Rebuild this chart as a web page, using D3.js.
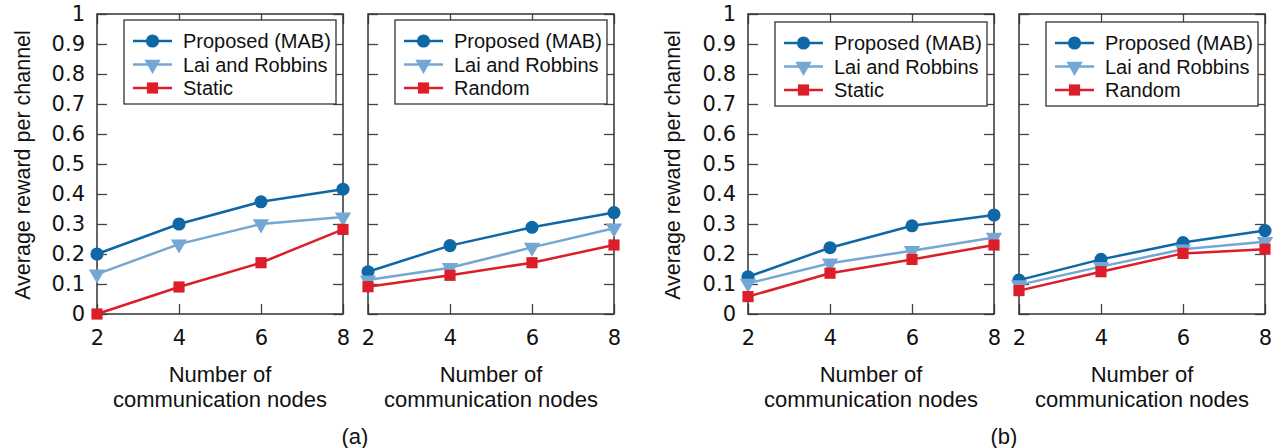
<!DOCTYPE html>
<html>
<head>
<meta charset="utf-8">
<script src="https://cdnjs.cloudflare.com/ajax/libs/d3/7.8.5/d3.min.js"></script>
<style>
  body { margin: 0; background: #fff; }
</style>
</head>
<body>
<div id="chart"></div>
<script>
// data
var nodes = [2, 4, 6, 8];
var yTickValues = [0, 0.1, 0.2, 0.3, 0.4, 0.5, 0.6, 0.7, 0.8, 0.9, 1];
var yTickLabels = ["0", "0.1", "0.2", "0.3", "0.4", "0.5", "0.6", "0.7", "0.8", "0.9", "1"];

var seriesNamesLeft = ["Proposed (MAB)", "Lai and Robbins", "Static"];
var seriesNamesRight = ["Proposed (MAB)", "Lai and Robbins", "Random"];

var aMab = [0.200, 0.300, 0.374, 0.416];
var aLai = [0.133, 0.233, 0.300, 0.323];
var aStatic = [0.000, 0.090, 0.171, 0.282];

var aMabR = [0.141, 0.228, 0.289, 0.338];
var aLaiR = [0.113, 0.154, 0.222, 0.286];
var aRandom = [0.091, 0.129, 0.171, 0.230];

var bMab = [0.124, 0.221, 0.294, 0.330];
var bLai = [0.102, 0.169, 0.211, 0.255];
var bStatic = [0.058, 0.136, 0.182, 0.230];

var bMabR = [0.113, 0.182, 0.238, 0.278];
var bLaiR = [0.097, 0.158, 0.216, 0.241];
var bRandom = [0.078, 0.141, 0.202, 0.216];

var xTitle = ["Number of", "communication nodes"];
var yTitle = "Average reward per channel";
var captions = ["(a)", "(b)"];

var colors = ["#0f67a6", "#74a7d3", "#dc1e2b"];
var symbols = [d3.symbolCircle, d3.symbolTriangle, d3.symbolSquare];
var font = "'Liberation Sans', Arial, Helvetica, sans-serif";
var tickFont = "'DejaVu Sans', 'Liberation Sans', sans-serif";

var svg = d3.select("#chart")
    .append("svg")
    .attr("width", 1273)
    .attr("height", 448)
    .style("font-family", font);

function marker(sel, i) {
    sel.attr("d", d3.symbol().type(symbols[i]).size(i == 0 ? 135 : (i == 1 ? 115 : 125)))
       .attr("fill", colors[i]);
}

function drawPanel(left, series, names, showLabels, legendTop) {
    var width = 246, height = 300, top = 14;

    var x = d3.scaleLinear().domain([2, 8]).range([left, left + width]);
    var y = d3.scaleLinear().domain([0, 1]).range([top + height, top]);

    var g = svg.append("g");

    var axes = [
        [d3.axisLeft(y).tickValues(yTickValues).tickSize(-10).tickPadding(12)
            .tickFormat(function(d, i) { return showLabels ? yTickLabels[i] : ""; }), "translate(" + left + ",0)"],
        [d3.axisRight(y).tickValues(yTickValues).tickSize(-10).tickFormat(""), "translate(" + (left + width) + ",0)"],
        [d3.axisBottom(x).tickValues(nodes).tickSize(-10).tickPadding(16).tickFormat(d3.format("d")), "translate(0," + (top + height) + ")"],
        [d3.axisTop(x).tickValues(nodes).tickSize(-10).tickFormat(""), "translate(0," + top + ")"]
    ];
    axes.forEach(function(a) {
        var ax = g.append("g").attr("transform", a[1]).call(a[0]);
        ax.select(".domain").remove();
        ax.selectAll("line").attr("stroke", "#444").attr("stroke-width", 1.3);
        ax.selectAll("text").attr("font-size", 21).attr("font-family", tickFont).attr("fill", "#111");
    });

    g.append("rect")
        .attr("x", left)
        .attr("y", top)
        .attr("width", width)
        .attr("height", height)
        .attr("fill", "none")
        .attr("stroke", "#333")
        .attr("stroke-width", 1.5);

    // x title
    g.append("text")
        .attr("x", left + width / 2).attr("y", 382)
        .attr("text-anchor", "middle").attr("font-size", 22).attr("fill", "#111")
        .text(xTitle[0]);
    g.append("text")
        .attr("x", left + width / 2).attr("y", 407)
        .attr("text-anchor", "middle").attr("font-size", 22).attr("fill", "#111")
        .text(xTitle[1]);

    // lines + markers
    var line = d3.line()
        .x(function(d, i) { return x(nodes[i]); })
        .y(function(d) { return y(d); });

    series.forEach(function(s, k) {
        g.append("path")
            .datum(s)
            .attr("d", line)
            .attr("fill", "none")
            .attr("stroke", colors[k])
            .attr("stroke-width", 2.5);
    });
    series.forEach(function(s, k) {
        g.selectAll(".m" + k).data(s).enter()
            .append("path")
            .attr("class", "m" + k)
            .attr("transform", function(d, i) {
                return "translate(" + x(nodes[i]) + "," + y(d) + ")" + (k == 1 ? " rotate(180)" : "");
            })
            .call(marker, k);
    });

    // legend
    var lx = left + 27, ly = legendTop, lw = 212, lh = 84;
    var leg = g.append("g");
    leg.append("rect")
        .attr("x", lx).attr("y", ly).attr("width", lw).attr("height", lh)
        .attr("fill", "#fff").attr("stroke", "#333").attr("stroke-width", 1.3);
    names.forEach(function(n, k) {
        var ry = ly + 21 + k * 23.5;
        leg.append("line")
            .attr("x1", lx + 9).attr("x2", lx + 48)
            .attr("y1", ry).attr("y2", ry)
            .attr("stroke", colors[k]).attr("stroke-width", 2.5);
        leg.append("path")
            .attr("transform", "translate(" + (lx + 28.5) + "," + ry + ")" + (k == 1 ? " rotate(180)" : ""))
            .call(marker, k);
        leg.append("text")
            .attr("x", lx + 59).attr("y", ry + 7)
            .attr("font-size", 20).attr("fill", "#111")
            .text(n);
    });
}

drawPanel(97, [aMab, aLai, aStatic], seriesNamesLeft, true, 20);
drawPanel(368, [aMabR, aLaiR, aRandom], seriesNamesRight, false, 20);
drawPanel(748, [bMab, bLai, bStatic], seriesNamesLeft, true, 22);
drawPanel(1019, [bMabR, bLaiR, bRandom], seriesNamesRight, false, 22);

// y titles
[22, 672].forEach(function(cx) {
    svg.append("text")
        .attr("transform", "translate(" + cx + ",165) rotate(-90)")
        .attr("text-anchor", "middle")
        .attr("dy", "0.35em")
        .attr("font-size", 21.5)
        .attr("fill", "#111")
        .text(yTitle);
});

// captions
[355, 1004].forEach(function(cx, i) {
    svg.append("text")
        .attr("x", cx).attr("y", 444)
        .attr("text-anchor", "middle")
        .attr("font-size", 22)
        .attr("fill", "#111")
        .text(captions[i]);
});
</script>
</body>
</html>
